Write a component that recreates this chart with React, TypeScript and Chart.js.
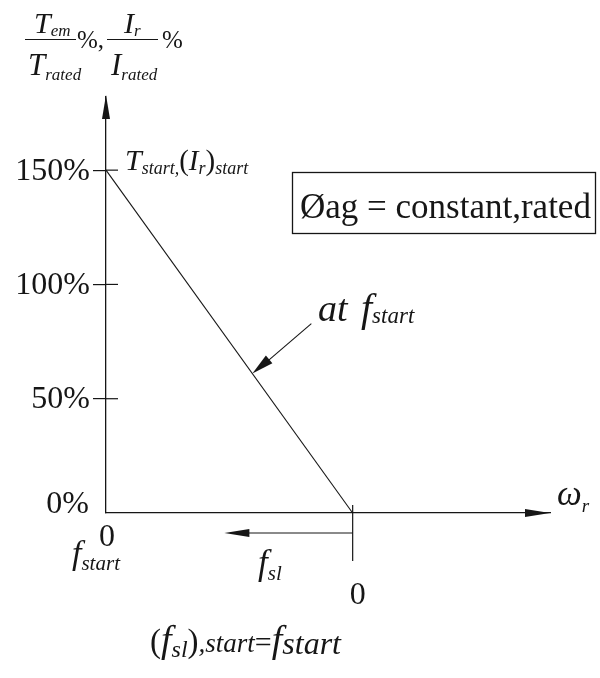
import React, { useEffect, useRef } from "react";
import { Chart, registerables } from "chart.js";

Chart.register(...registerables);

// Rotor speed ω_r, in units of the synchronous speed at f_start (0 = standstill)
const speedPoints = [0, 1];
// Electromagnetic torque / rotor current as a percentage of rated
const torquePct = [150, 0];
const yTickValues = [0, 50, 100, 150];
const yTickLabels = ["0%", "50%", "100%", "150%"];
const speedMax = 1.8;
const pctMax = 182;
// the slip-frequency arrow runs from synchronous speed back to here
const slipArrowEnd = 0.48;
// torque level where the "at f_start" callout meets the characteristic
const calloutPct = 61;

const INK = "#161616";
const SERIF = '"Liberation Serif", "Times New Roman", serif';
const it = (px: number) => `italic ${px}px ${SERIF}`;
const up = (px: number) => `${px}px ${SERIF}`;

type Run = [string, string, number?];

function drawRuns(ctx: CanvasRenderingContext2D, x: number, y: number, runs: Run[]) {
  let cx = x;
  for (const [t, font, dy] of runs) {
    ctx.font = font;
    ctx.fillText(t, cx, y + (dy || 0));
    cx += ctx.measureText(t).width;
  }
  return cx;
}

function arrowHead(ctx: CanvasRenderingContext2D, tipX: number, tipY: number, fromX: number, fromY: number, len: number, half: number) {
  const dx = tipX - fromX;
  const dy = tipY - fromY;
  const d = Math.hypot(dx, dy) || 1;
  const ux = dx / d, uy = dy / d;
  const bx = tipX - ux * len, by = tipY - uy * len;
  ctx.beginPath();
  ctx.moveTo(tipX, tipY);
  ctx.lineTo(bx - uy * half, by + ux * half);
  ctx.lineTo(bx + uy * half, by - ux * half);
  ctx.closePath();
  ctx.fill();
}

function line(ctx: CanvasRenderingContext2D, x1: number, y1: number, x2: number, y2: number, w = 1.2) {
  ctx.lineWidth = w;
  ctx.beginPath();
  ctx.moveTo(x1, y1);
  ctx.lineTo(x2, y2);
  ctx.stroke();
}

const diagramLayer = {
  id: "diagramLayer",
  afterDraw(chart: any) {
    const { ctx, chartArea, scales } = chart;
    const xs = scales.x;
    const ys = scales.y;
    const x0 = xs.getPixelForValue(0);
    const yb = ys.getPixelForValue(0);
    const xr = xs.getPixelForValue(speedMax);
    const xsync = xs.getPixelForValue(speedPoints[1]);

    ctx.save();
    ctx.fillStyle = INK;
    ctx.strokeStyle = INK;
    ctx.textBaseline = "alphabetic";

    // axis arrowheads
    arrowHead(ctx, x0, chartArea.top - 2, x0, chartArea.top + 30, 24, 4);
    arrowHead(ctx, xr, yb, xr - 30, yb, 25, 4);

    // tick marks continue to the right of the vertical axis
    for (const v of yTickValues) {
      if (v === 0) continue;
      const py = ys.getPixelForValue(v);
      line(ctx, x0, py, x0 + 12, py, 1.2);
    }

    // tick labels
    ctx.textAlign = "right";
    ctx.font = up(32);
    yTickValues.forEach((v, i) => {
      const py = ys.getPixelForValue(v);
      if (v === 0) {
        ctx.textBaseline = "alphabetic";
        ctx.fillText(yTickLabels[i], x0 - 17, py);
      } else {
        ctx.textBaseline = "middle";
        ctx.fillText(yTickLabels[i], x0 - 16, py + 1);
      }
    });
    ctx.textBaseline = "alphabetic";

    // synchronous-speed marker and slip-frequency arrow
    line(ctx, xsync, yb - 8, xsync, yb + 48, 1.2);
    const xa = xs.getPixelForValue(slipArrowEnd);
    line(ctx, xsync, yb + 20, xa + 20, yb + 20, 1.2);
    arrowHead(ctx, xa, yb + 20, xa + 30, yb + 20, 25, 4);

    // callout arrow onto the characteristic
    const cx = xs.getPixelForValue(1 - calloutPct / torquePct[0]);
    const cy = ys.getPixelForValue(calloutPct);
    line(ctx, cx + 59, cy - 50, cx + 10, cy - 8, 1.1);
    arrowHead(ctx, cx, cy, cx + 59, cy - 50, 22, 5);

    // axis titles
    ctx.textAlign = "left";
    drawRuns(ctx, 34, 33, [["T", it(30)], ["em", it(17), 3]]);
    line(ctx, 25, 39.5, 76, 39.5, 1.2);
    drawRuns(ctx, 28, 75, [["T", it(31)], ["rated", it(17), 5]]);
    drawRuns(ctx, 77, 48, [["%", up(25)], [",", up(25)]]);
    drawRuns(ctx, 124, 33, [["I", it(30)], ["r", it(17), 3]]);
    line(ctx, 107, 39.5, 158, 39.5, 1.2);
    drawRuns(ctx, 111, 75, [["I", it(31)], ["rated", it(17), 5]]);
    drawRuns(ctx, 162, 48, [["%", up(25)]]);

    // starting point label
    const ps = ys.getPixelForValue(torquePct[0]);
    drawRuns(ctx, x0 + 19, ps, [
      ["T", it(30)],
      ["start,", it(18), 4],
      ["(", up(29)],
      ["I", it(29)],
      ["r", it(18), 4],
      [")", up(29)],
      ["start", it(18), 4],
    ]);

    // flux condition box
    ctx.lineWidth = 1.3;
    ctx.strokeRect(292.5, 172.5, 303, 61);
    drawRuns(ctx, 300, 218, [["Øag = constant,rated", up(35)]]);

    // callout text
    drawRuns(ctx, 318, 321, [["at", it(38)]]);
    drawRuns(ctx, 361, 321, [["f", it(40)], ["start", it(23), 2]]);

    // speed axis label
    drawRuns(ctx, 557, 505, [["ω", it(35)], ["r", it(19), 7]]);

    // zero labels
    ctx.textAlign = "center";
    ctx.font = up(32);
    ctx.fillText("0", x0 + 1, 546);
    ctx.fillText("0", xsync + 5, 604);
    ctx.textAlign = "left";
    drawRuns(ctx, 72, 564, [["f", it(34)], ["start", it(21), 6]]);
    drawRuns(ctx, 258, 574, [["f", it(35)], ["sl", it(21), 6]]);

    // starting slip relation
    drawRuns(ctx, 150, 652, [
      ["(", up(33)],
      ["f", it(38)],
      ["sl", it(24), 5],
      [")", up(33)],
      [",start", it(27), 0],
      ["=", up(30)],
      ["f", it(38)],
      ["start", it(32), 2],
    ]);

    ctx.restore();
  },
};

export default function App() {
  const canvasRef = useRef<HTMLCanvasElement | null>(null);

  useEffect(() => {
    const canvas = canvasRef.current;
    if (!canvas) return;
    const chart = new Chart(canvas, {
      type: "scatter",
      data: {
        datasets: [
          {
            data: speedPoints.map((s, i) => ({ x: s, y: torquePct[i] })),
            showLine: true,
            borderColor: INK,
            borderWidth: 1.1,
            pointRadius: 0,
            clip: false as any,
          },
        ],
      },
      options: {
        responsive: false,
        animation: false,
        events: [],
        layout: { padding: { left: 93, top: 97, right: 50, bottom: 165 } },
        plugins: { legend: { display: false }, tooltip: { enabled: false } },
        scales: {
          x: {
            type: "linear",
            min: 0,
            max: speedMax,
            afterBuildTicks: (s: any) => {
              s.ticks = [];
            },
            afterFit: (s: any) => {
              s.height = 0;
            },
            ticks: { display: false },
            grid: { display: false },
            border: { display: true, color: INK, width: 1.3 },
          },
          y: {
            type: "linear",
            min: 0,
            max: pctMax,
            afterBuildTicks: (s: any) => {
              s.ticks = yTickValues.map((v) => ({ value: v }));
            },
            afterFit: (s: any) => {
              s.width = 13;
            },
            ticks: { display: false },
            grid: {
              drawOnChartArea: false,
              drawTicks: true,
              tickLength: 13,
              lineWidth: 1.2,
              color: (c: any) => (c.tick && c.tick.value === 0 ? "rgba(0,0,0,0)" : INK),
            },
            border: { display: true, color: INK, width: 1.3 },
          },
        },
      },
      plugins: [diagramLayer],
    });
    return () => chart.destroy();
  }, []);

  return (
    <div style={{ position: "fixed", left: 0, top: 0, width: 600, height: 678, background: "#fff" }}>
      <canvas ref={canvasRef} width={600} height={678} style={{ display: "block" }} />
    </div>
  );
}
